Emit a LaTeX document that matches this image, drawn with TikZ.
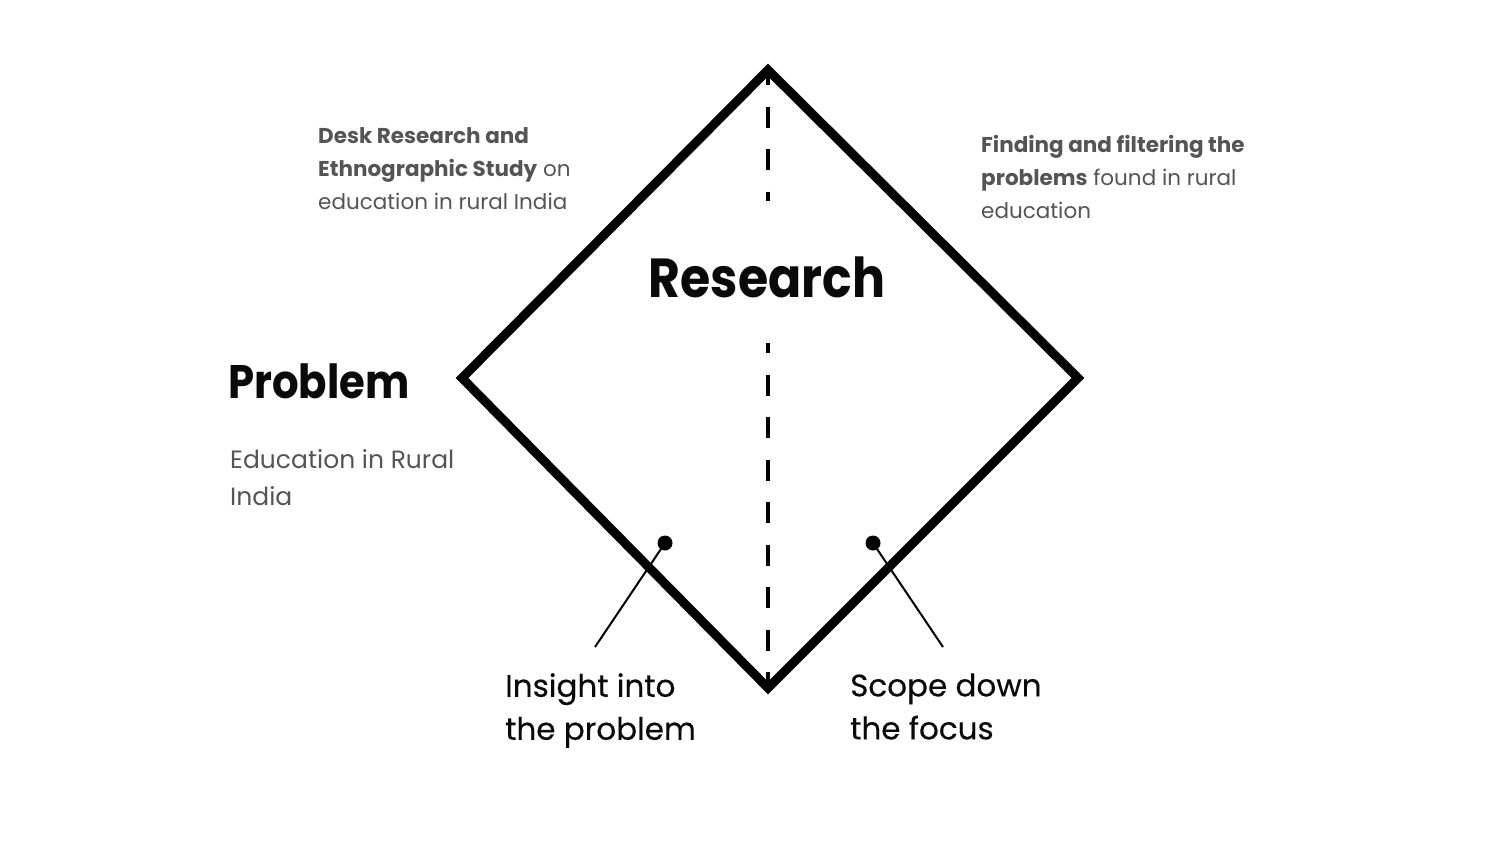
\documentclass[tikz,border=0pt]{standalone}
\usepackage{fontspec}
\setmainfont{Poppins}
\newfontfamily\popmedium[FakeBold=0.35]{Poppins}
\usepackage{xcolor}
\usepackage{graphicx}
\usepackage{tikz}
\usetikzlibrary{positioning}
\definecolor{inkgrey}{HTML}{555555}
\definecolor{inkdark}{HTML}{0A0A0A}
\newcommand{\narrowbold}[1]{\scalebox{0.89}[1]{\bfseries #1}}

\begin{document}
\begin{tikzpicture}[x=1pt,y=-1pt,
  frame/.style={line width=9pt,line join=miter,miter limit=10},
  axisline/.style={line width=4.5pt,dash pattern=on 21pt off 21.5pt},
  heading/.style={inner sep=0pt,anchor=west,text=inkdark,font=\fontsize{47}{56}\selectfont},
  notetext/.style={inner sep=0pt,anchor=west,align=left,text=inkgrey,font=\fontsize{21.5}{33}\selectfont},
  captext/.style={inner sep=0pt,anchor=west,align=left,text=inkdark,font=\popmedium\fontsize{31}{43}\selectfont},
  pinhead/.style={circle,fill=black,inner sep=0pt,minimum size=15pt},
  pinline/.style={line width=2pt}]
\useasboundingbox (0,0) rectangle (1500,843);
\coordinate (top) at (768,70);
\coordinate (right) at (1078,378);
\coordinate (bottom) at (768,688);
\coordinate (left) at (462,378);
\coordinate (axisgap) at (768,201);
\coordinate (axisrest) at (768,343);
\draw[frame] (top) -- (right) -- (bottom) -- (left) -- cycle;
\draw[axisline,dash phase=6pt] (top) -- (axisgap);
\draw[axisline,dash phase=11pt] (axisrest) -- (bottom);
\node[heading,anchor=center,font=\fontsize{55}{60}\selectfont] (research) at (767,277) {\narrowbold{Research}};
\node[heading] (problem) at (228,381) {\narrowbold{Problem}};
\node[notetext,font=\fontsize{25}{37}\selectfont] (problemnote) at (230,478) {Education in Rural\\India};
\node[notetext] (desknote) at (318,169) {{\bfseries Desk Research and}\\{\bfseries Ethnographic Study} on\\education in rural India};
\node[notetext] (findnote) at (981,176.5) {{\bfseries Finding and filtering the}\\{\bfseries problems} found in rural\\education};
\node[pinhead] (insightpin) at (665,543) {};
\node[pinhead] (scopepin) at (873,543) {};
\coordinate (insightend) at (595,647);
\coordinate (scopeend) at (943,647);
\draw[pinline] (insightpin.center) -- (insightend);
\draw[pinline] (scopepin.center) -- (scopeend);
\node[captext] (insight) at (505,710.5) {Insight into\\the problem};
\node[captext] (scope) at (850,706.5) {Scope down\\the focus};
\end{tikzpicture}
\end{document}
